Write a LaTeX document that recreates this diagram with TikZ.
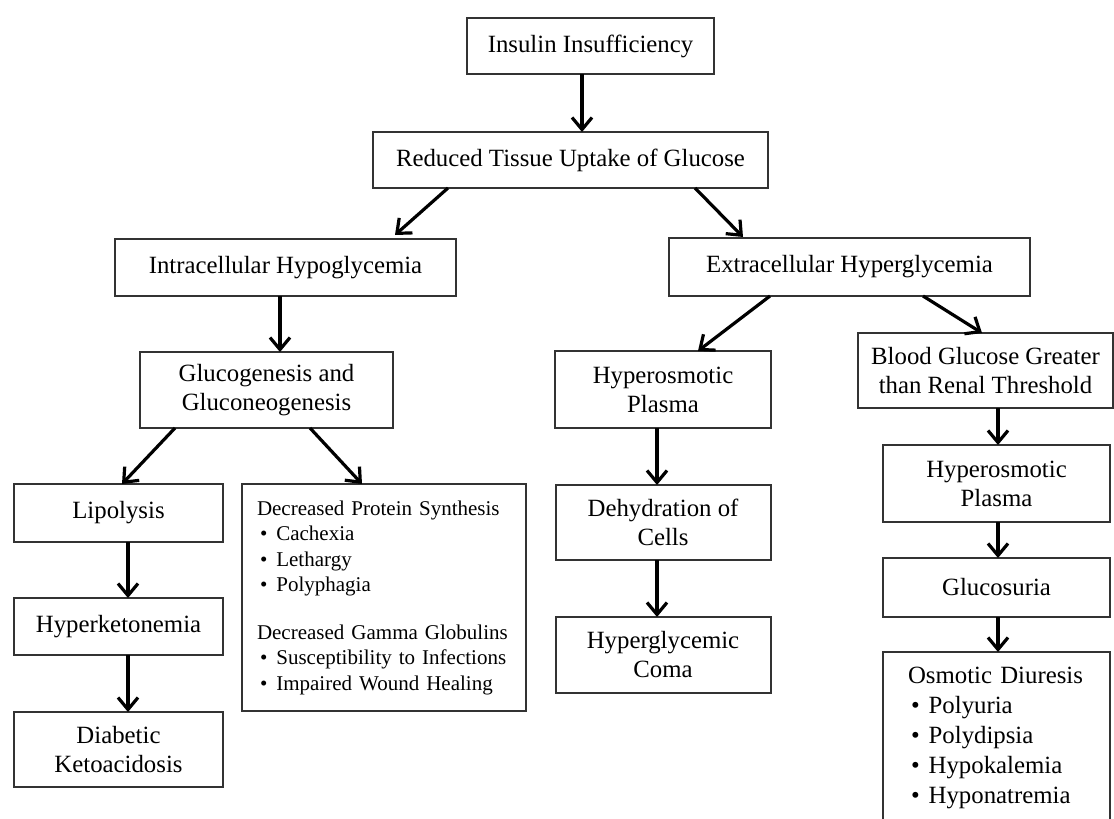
\documentclass[tikz,border=0pt]{standalone}
\usepackage{fontspec}
\setmainfont{Liberation Serif}
\usetikzlibrary{arrows.meta,positioning}
\newcommand{\blt}{\hspace*{1.5pt}\textbullet\hspace{4.5pt}}
\tikzset{
  cbox/.style={
    rectangle, draw=black!80, line width=1pt, fill=white,
    align=center, inner sep=2pt, outer sep=0pt
  },
  clist/.style={cbox, align=left},
  carrow/.style={-{Straight Barb[length=6pt,width=10pt]}, line width=1.6pt, draw=black},
}

\begin{document}
\begin{tikzpicture}[font=\fontsize{12.4}{14.5}\selectfont]
  \useasboundingbox (0,0) rectangle (557pt,-409.5pt);
  % top of the chart
  \node (n1) [cbox, minimum width=123.5pt, minimum height=28pt] at (295.25pt,-23pt) {Insulin Insufficiency};
  \node (n2) [cbox, minimum width=197.5pt, minimum height=28pt, below=29pt of n1, xshift=-10pt] {Reduced Tissue Uptake of Glucose};
  \node (n3) [cbox, minimum width=170.5pt, minimum height=28.5pt, below=25.5pt of n2, xshift=-142.5pt] {Intracellular Hypoglycemia};
  \node (n4) [cbox, minimum width=180.5pt, minimum height=29pt, below=25pt of n2, xshift=139.5pt] {Extracellular Hyperglycemia};
  % left branch
  \node (n5) [cbox, minimum width=126.5pt, minimum height=38pt, below=28pt of n3, xshift=-9.5pt] {Glucogenesis and\\Gluconeogenesis};
  \node (n8) [cbox, minimum width=104.5pt, minimum height=29pt, below=28pt of n5, xshift=-74pt] {Lipolysis};
  \node (n11) [cbox, minimum width=104.5pt, minimum height=28.5pt, below=28pt of n8] {Hyperketonemia};
  \node (n13) [cbox, minimum width=104.5pt, minimum height=37.5pt, below=28.5pt of n11] {Diabetic\\Ketoacidosis};
  \node (n9) [clist, minimum width=142pt, minimum height=113.5pt, text width=127pt, inner xsep=7.5pt,
    font=\fontsize{10.5}{12.75}\selectfont, below=28pt of n5, xshift=58.75pt]
    {Decreased Protein Synthesis\\\blt Cachexia\\\blt Lethargy\\\blt Polyphagia\\[11pt]
     Decreased Gamma Globulins\\\blt Susceptibility to Infections\\\blt Impaired Wound Healing};
  % right branch
  \node (n6) [cbox, minimum width=108pt, minimum height=38.5pt, below=27.5pt of n4, xshift=-93.25pt] {Hyperosmotic\\Plasma};
  \node (n10) [cbox, minimum width=107.5pt, minimum height=37.5pt, below=28.5pt of n6] {Dehydration of\\Cells};
  \node (n12) [cbox, minimum width=107.5pt, minimum height=38pt, below=28.5pt of n10] {Hyperglycemic\\Coma};
  \node (n7) [cbox, minimum width=127.5pt, minimum height=37.5pt, below=18.5pt of n4, xshift=68pt] {Blood Glucose Greater\\than Renal Threshold};
  \node (n14) [cbox, minimum width=113.5pt, minimum height=38.5pt, below=18.5pt of n7, xshift=5.5pt] {Hyperosmotic\\Plasma};
  \node (n15) [cbox, minimum width=113.5pt, minimum height=29.5pt, below=18pt of n14] {Glucosuria};
  \node (n16) [clist, minimum width=113.5pt, text width=88.5pt, inner xsep=12.5pt, inner ysep=7.5pt,
    font=\fontsize{12.4}{15}\selectfont, below=17.5pt of n15]
    {Osmotic Diuresis\\\blt Polyuria\\\blt Polydipsia\\\blt Hypokalemia\\\blt Hyponatremia};
  % arrows
  \draw[carrow] ([xshift=-4.25pt]n1.south) -- ([xshift=5.75pt]n2.north);
  \draw[carrow] ([xshift=-61.25pt]n2.south) -- ([xshift=54.75pt,yshift=2pt]n3.north);
  \draw[carrow] ([xshift=62.25pt]n2.south) -- ([xshift=-53.25pt,yshift=0.5pt]n4.north);
  \draw[carrow] ([xshift=-2.75pt]n3.south) -- ([xshift=6.75pt]n5.north);
  \draw[carrow] ([xshift=-45.75pt]n5.south) -- ([xshift=1.75pt]n8.north);
  \draw[carrow] ([xshift=21.75pt]n5.south) -- ([xshift=-11pt]n9.north);
  \draw[carrow] ([xshift=4.75pt]n8.south) -- ([xshift=4.75pt]n11.north);
  \draw[carrow] ([xshift=4.75pt]n11.south) -- ([xshift=4.75pt]n13.north);
  \draw[carrow] ([xshift=-39.75pt]n4.south) -- ([xshift=17.5pt]n6.north);
  \draw[carrow] ([xshift=36.75pt]n4.south) -- ([xshift=-1.75pt]n7.north);
  \draw[carrow] ([xshift=-3pt]n6.south) -- ([xshift=-3pt]n10.north);
  \draw[carrow] ([xshift=-3pt]n10.south) -- ([xshift=-3pt]n12.north);
  \draw[carrow] ([xshift=6.25pt]n7.south) -- ([xshift=0.75pt]n14.north);
  \draw[carrow] ([xshift=0.75pt]n14.south) -- ([xshift=0.75pt]n15.north);
  \draw[carrow] ([xshift=0.75pt]n15.south) -- ([xshift=0.75pt]n16.north);
\end{tikzpicture}
\end{document}
